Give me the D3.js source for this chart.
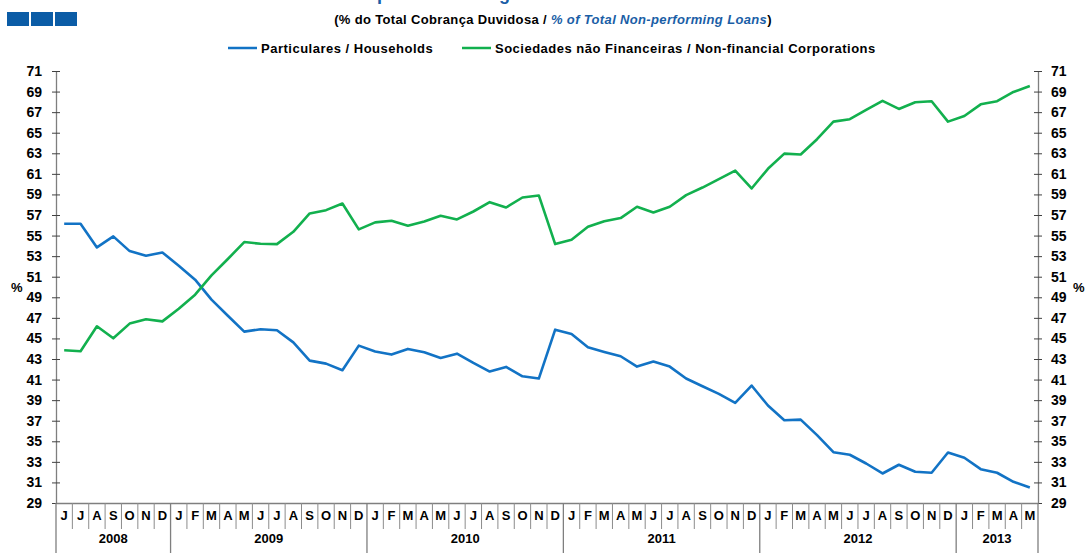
<!DOCTYPE html>
<html>
<head>
<meta charset="utf-8">
<script src="https://cdn.jsdelivr.net/npm/d3@7"></script>
<style>
    body { margin: 0; background: #fff; }
    svg text { font-family: "Liberation Sans", Arial, sans-serif; }
</style>
</head>
<body>
<div class="chart"></div>
<script>
const widthMax = 1086;
const heightMax = 554;

const margin = { top: 71, bottom: 51, left: 56, right: 48 };
const width = widthMax - margin.left - margin.right;
const height = heightMax - margin.top - margin.bottom;

// month letters, Jun 2008 .. May 2013
const monthLetters = [
    "J","J","A","S","O","N","D",
    "J","F","M","A","M","J","J","A","S","O","N","D",
    "J","F","M","A","M","J","J","A","S","O","N","D",
    "J","F","M","A","M","J","J","A","S","O","N","D",
    "J","F","M","A","M","J","J","A","S","O","N","D",
    "J","F","M","A","M"
];
const yearLabels = ["2008", "2009", "2010", "2011", "2012", "2013"];
const yearMonths = [7, 12, 12, 12, 12, 5];

const households = [
    56.15, 56.15, 53.85, 54.92, 53.49, 53.04, 53.36, 52.07, 50.71, 48.77,
    47.21, 45.66, 45.89, 45.79, 44.62, 42.84, 42.55, 41.91, 44.30, 43.72,
    43.43, 43.98, 43.65, 43.10, 43.52, 42.62, 41.78, 42.23, 41.32, 41.10,
    45.85, 45.43, 44.14, 43.69, 43.27, 42.26, 42.75, 42.26, 41.10, 40.35,
    39.61, 38.73, 40.42, 38.48, 37.05, 37.11, 35.60, 33.94, 33.69, 32.84,
    31.87, 32.72, 32.04, 31.94, 33.91, 33.40, 32.29, 31.94, 31.06, 30.51
];
const corporations = [
    43.85, 43.75, 46.18, 45.01, 46.44, 46.86, 46.66, 47.89, 49.25, 51.13,
    52.72, 54.37, 54.20, 54.17, 55.37, 57.15, 57.47, 58.12, 55.60, 56.28,
    56.44, 55.95, 56.37, 56.92, 56.57, 57.34, 58.25, 57.73, 58.70, 58.90,
    54.17, 54.59, 55.85, 56.40, 56.70, 57.80, 57.25, 57.80, 58.93, 59.67,
    60.48, 61.32, 59.58, 61.49, 62.97, 62.88, 64.37, 66.08, 66.31, 67.21,
    68.09, 67.31, 67.96, 68.06, 66.08, 66.63, 67.76, 68.06, 68.96, 69.54
];

const seriesNames = ["Particulares / Households", "Sociedades não Financeiras / Non-financial Corporations"];
const seriesColors = ["#1273c5", "#12b04e"];

const yTicks = d3.range(29, 72, 2);

let svg = d3.select(".chart")
    .append("svg")
    .attr("width", widthMax)
    .attr("height", heightMax);

// header: blocks, title (cut at top edge, as in the source), subtitle
svg.selectAll(".block")
    .data([0, 1, 2])
    .enter()
    .append("rect")
    .attr("x", (d) => 7 + d * 24)
    .attr("y", 12)
    .attr("width", 22)
    .attr("height", 14)
    .attr("fill", "#0b5ca6");

svg.append("text")
    .attr("x", 235)
    .attr("y", 0)
    .style("font-size", "18px")
    .style("font-weight", "bold")
    .attr("fill", "#1a5ea6")
    .text("Crédito Vencido por Setor e Segmento");

let sub = svg.append("text")
    .attr("x", 553)
    .attr("y", 24)
    .attr("text-anchor", "middle")
    .style("font-size", "13px")
    .style("font-weight", "bold")
    .style("letter-spacing", "0.35px");
sub.append("tspan").text("(% do Total Cobrança Duvidosa  / ");
sub.append("tspan").attr("fill", "#1a5ea6").style("font-style", "italic").text("% of Total Non-performing Loans");
sub.append("tspan").text(")");

// legend
const legendX = [228, 462];
seriesNames.forEach((name, i) => {
    let g = svg.append("g").attr("transform", "translate(" + legendX[i] + ", 48)");
    g.append("line").attr("x1", 0).attr("x2", 29).attr("y1", 0).attr("y2", 0)
        .attr("stroke", seriesColors[i]).attr("stroke-width", 2.5);
    g.append("text").attr("x", 33).attr("y", 4.5)
        .style("font-size", "13px").style("font-weight", "bold")
        .style("letter-spacing", "0.5px")
        .text(name);
});

let chart = svg.append("g")
    .attr("transform", "translate(" + margin.left + "," + margin.top + ")");

const xScale = d3.scaleBand()
    .domain(d3.range(monthLetters.length))
    .range([0, width]);

const yScale = d3.scaleLinear()
    .domain([29, 71])
    .range([height, 0]);

// y axes (left & right), ticks crossing the line
function styleY(g, left) {
    g.select(".domain").attr("stroke", "#7f7f7f").attr("stroke-width", 1.3);
    g.selectAll(".tick line").attr("stroke", "#404040").attr("x1", left ? 4 : -4);
    g.selectAll(".tick text")
        .style("font-size", "14px").style("font-weight", "bold")
        .attr("fill", "#000");
}

chart.append("g")
    .call(d3.axisLeft(yScale).tickValues(yTicks).tickSize(4).tickSizeOuter(0).tickPadding(10))
    .call((g) => styleY(g, true));

chart.append("g")
    .attr("transform", "translate(" + width + ",0)")
    .call(d3.axisRight(yScale).tickValues(yTicks).tickSize(4).tickSizeOuter(0).tickPadding(9))
    .call((g) => styleY(g, false));

svg.append("text").attr("x", 11).attr("y", 292)
    .style("font-size", "13px").style("font-weight", "bold").text("%");
svg.append("text").attr("x", 1073).attr("y", 292)
    .style("font-size", "13px").style("font-weight", "bold").text("%");

// x axis: month letters, separators, years
chart.append("g")
    .attr("transform", "translate(0," + height + ")")
    .call(d3.axisBottom(xScale).tickSize(0).tickPadding(8).tickFormat((d) => monthLetters[d]))
    .call((g) => {
        g.select(".domain").attr("stroke", "#7f7f7f").attr("stroke-width", 1.3);
        g.selectAll(".tick text")
            .style("font-size", "13px").style("font-weight", "bold")
            .attr("fill", "#000");
    });

let yearStart = [];
let acc = 0;
yearMonths.forEach((n) => { yearStart.push(acc); acc += n; });

const monthBounds = d3.range(1, monthLetters.length).filter((i) => !yearStart.includes(i));
chart.selectAll(".msep")
    .data(monthBounds)
    .enter()
    .append("line")
    .attr("x1", (d) => xScale(d))
    .attr("x2", (d) => xScale(d))
    .attr("y1", height)
    .attr("y2", height + 26)
    .attr("stroke", "#8c8c8c")
    .attr("stroke-width", 1);

chart.selectAll(".ysep")
    .data(yearStart.concat([monthLetters.length]))
    .enter()
    .append("line")
    .attr("x1", (d) => d === monthLetters.length ? width : xScale(d))
    .attr("x2", (d) => d === monthLetters.length ? width : xScale(d))
    .attr("y1", height)
    .attr("y2", height + 50)
    .attr("stroke", "#7f7f7f")
    .attr("stroke-width", 1.3);

chart.selectAll(".year")
    .data(yearLabels)
    .enter()
    .append("text")
    .attr("x", (d, i) => {
        const a = xScale(yearStart[i]);
        const b = i + 1 < yearStart.length ? xScale(yearStart[i + 1]) : width;
        return (a + b) / 2;
    })
    .attr("y", height + 40)
    .attr("text-anchor", "middle")
    .style("font-size", "13px").style("font-weight", "bold")
    .text((d) => d);

// lines
const line = d3.line()
    .x((d, i) => xScale(i) + xScale.bandwidth() / 2)
    .y((d) => yScale(d));

[households, corporations].forEach((s, i) => {
    chart.append("path")
        .datum(s)
        .attr("fill", "none")
        .attr("stroke", seriesColors[i])
        .attr("stroke-width", 2.6)
        .attr("stroke-linejoin", "round")
        .attr("d", line);
});
</script>
</body>
</html>
